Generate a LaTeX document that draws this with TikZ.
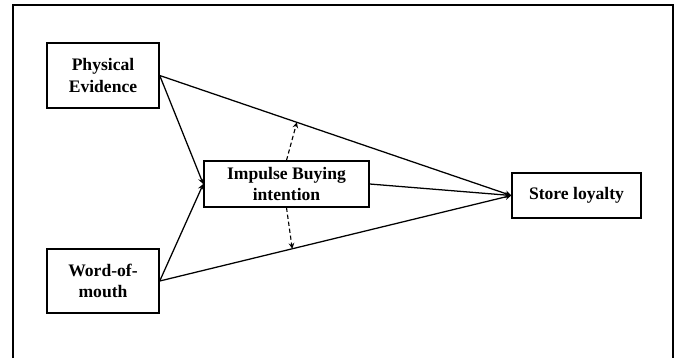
\documentclass[tikz,border=0pt]{standalone}
\usepackage{fontspec}
\setmainfont{Liberation Serif}
\usetikzlibrary{arrows, positioning}

\begin{document}
\begin{tikzpicture}[
    x=0.025cm, y=-0.025cm,
    box/.style={rectangle, draw=black, line width=1pt, fill=white, align=center, inner sep=2pt, font=\fontsize{12.5}{15}\selectfont\bfseries},
    arrow/.style={->, >=stealth, line width=0.9pt},
    modarrow/.style={->, >=stealth, dash pattern=on 3pt off 2pt, line width=0.8pt}
]

% page and frame
\useasboundingbox (0,0) rectangle (675,358);
\draw[line width=0.8pt] (13,358) -- (13,5) -- (673,5) -- (673,358);

\node[box, minimum width=2.8cm, minimum height=1.625cm] (physical) at (103,75.5) {Physical\\Evidence};
\node[box, minimum width=2.8cm, minimum height=1.6cm] (wom) at (103,281) {Word-of-\\mouth};
\node[box, minimum width=4.125cm, minimum height=1.15cm] (impulse) at (286.5,184) {Impulse Buying\\intention};
\node[box, minimum width=3.225cm, minimum height=1.125cm] (loyalty) at (576.5,195.5) {Store loyalty};

\draw[arrow] (physical.east) -- (impulse.west);
\draw[arrow] (wom.east) -- (impulse.west);
\draw[arrow] (impulse.east) -- (loyalty.west);
\draw[arrow] (physical.east) -- coordinate[pos=0.39] (upper) (loyalty.west);
\draw[arrow] (wom.east) -- coordinate[pos=0.377] (lower) (loyalty.west);

% moderation
\draw[modarrow] (impulse.north) -- (upper);
\draw[modarrow] (impulse.south) -- (lower);

\end{tikzpicture}
\end{document}
